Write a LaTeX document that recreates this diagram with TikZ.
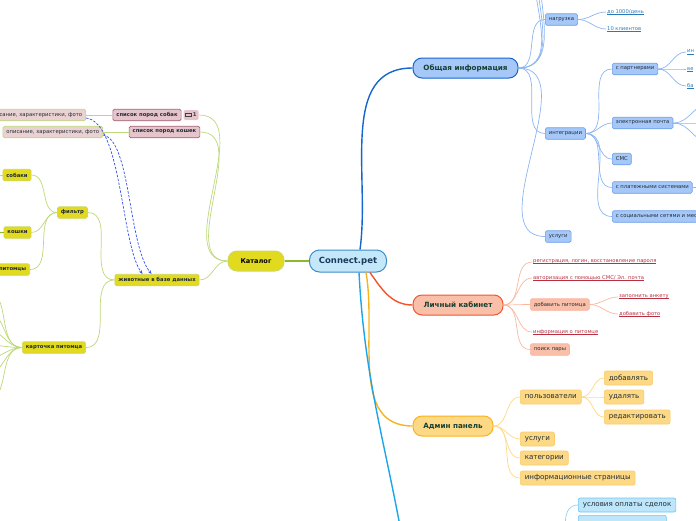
\documentclass[tikz,border=0pt]{standalone}
\usepackage{fontspec}
\setmainfont{DejaVu Sans}
\usepackage{xcolor}
\usetikzlibrary{arrows.meta, positioning}
\definecolor{rootfill}{HTML}{C4E8FA}
\definecolor{rootline}{HTML}{3C8CC8}
\definecolor{roottxt}{HTML}{1B3A5C}
\definecolor{txtgreen}{HTML}{163F33}
\definecolor{darktxt}{HTML}{222B36}
\definecolor{bluebr}{HTML}{1565D0}
\definecolor{bluefill}{HTML}{A5C8F8}
\definecolor{blueedge}{HTML}{6A9CE8}
\definecolor{bluethin}{HTML}{8CB6F2}
\definecolor{bluelink}{HTML}{2A7AB8}
\definecolor{redbr}{HTML}{F2552C}
\definecolor{redfill}{HTML}{F9BFA8}
\definecolor{redthin}{HTML}{F8B8A0}
\definecolor{redlink}{HTML}{B83040}
\definecolor{orbr}{HTML}{F7B31E}
\definecolor{orfill}{HTML}{FDD985}
\definecolor{oredge}{HTML}{FBCB6A}
\definecolor{orthin}{HTML}{FDD888}
\definecolor{skybr}{HTML}{1CA5E8}
\definecolor{skyfill}{HTML}{BEE6FA}
\definecolor{skyedge}{HTML}{6BC6F0}
\definecolor{skythin}{HTML}{8FD3F3}
\definecolor{greenbr}{HTML}{8CB82A}
\definecolor{greenthin}{HTML}{BCD878}
\definecolor{catfill}{HTML}{E2DA1E}
\definecolor{catedge}{HTML}{CCD860}
\definecolor{pinkfill}{HTML}{E6C4CC}
\definecolor{pinkedge}{HTML}{A06070}
\definecolor{descfill}{HTML}{EAD2D2}
\definecolor{dashblue}{HTML}{3050F0}
\newlength{\lkwidth}
\newcommand{\lk}[1]{\settowidth{\lkwidth}{#1}\rlap{\rule[-0.9pt]{\lkwidth}{0.35pt}}#1}

\begin{document}
\begin{tikzpicture}[
  x=1pt, y=-1pt,
  main/.style={rounded corners=9pt, minimum height=20pt, inner sep=0pt, font=\fontsize{7.2}{8}\selectfont\bfseries, text=txtgreen, line width=1pt},
  leaf/.style={rounded corners=1.5pt, minimum height=11.5pt, inner xsep=3.5pt, inner ysep=0pt, font=\fontsize{5.3}{6}\selectfont, text=darktxt, line width=0.6pt},
  leafb/.style={leaf, font=\fontsize{5.3}{6}\selectfont\bfseries},
  tag/.style={rounded corners=2pt, minimum height=14pt, inner xsep=4.5pt, inner ysep=0pt, font=\fontsize{7.1}{8}\selectfont, text=darktxt, line width=0.6pt},
  lnk/.style={inner sep=1pt, anchor=west, font=\fontsize{5.2}{6}\selectfont},
  branch/.style={line width=1.4pt},
  twig/.style={line width=0.7pt},
  ref/.style={dash pattern=on 2.5pt off 1.5pt, dashblue, line width=0.7pt, -{Stealth[length=4pt, width=3pt]}}
]
  \useasboundingbox (0,0) rectangle (696,520);
  \clip (0,0) rectangle (696,520);

  % centre and main branches
  \node[main, fill=rootfill, draw=rootline, minimum width=77pt, minimum height=22pt, rounded corners=10pt, font=\fontsize{8.5}{10}\selectfont\bfseries, text=roottxt] (root) at (348,261) {Connect.pet};
  \node[main, fill=catfill, draw=catedge, minimum width=56pt, text=black, font=\fontsize{6.6}{8}\selectfont\bfseries] (cat) at (256,261) {Каталог};
  \node[main, fill=bluefill, draw=bluebr, minimum width=105pt] (info) at (465.5,68) {Общая информация};
  \node[main, fill=redfill, draw=redbr, minimum width=90pt] (cabinet) at (458,305) {Личный кабинет};
  \node[main, fill=orfill, draw=orbr, minimum width=80pt] (admin) at (453,426) {Админ панель};
  \coordinate (skyend) at (404,548);

  \draw[branch, greenbr] (root.west) -- (cat.east);
  \draw[branch, bluebr] ([xshift=12pt]root.north) to[out=82, in=180] (info.west);
  \draw[branch, redbr] ([xshift=22pt]root.south) to[out=-55, in=180] (cabinet.west);
  \draw[branch, orbr] ([xshift=18pt]root.south) to[out=-80, in=180] (admin.west);
  \draw[branch, skybr] ([xshift=11pt]root.south) to[out=-87, in=100] (skyend);

  % general info
  \node[leaf, fill=bluefill, draw=blueedge, anchor=west] (load) at (545,19.5) {нагрузка};
  \node[leaf, fill=bluefill, draw=blueedge, anchor=west] (integr) at (545,133.5) {интеграции};
  \node[leaf, fill=bluefill, draw=blueedge, anchor=west] (serv) at (545,236.5) {услуги};
  \coordinate (up1) at (532,-40);
  \coordinate (up2) at (535,-40);
  \coordinate (up3) at (538,-40);
  \draw[twig, bluethin] (info.east) to[out=0, in=-90] (up1);
  \draw[twig, bluethin] (info.east) to[out=0, in=-90] (up2);
  \draw[twig, bluethin] (info.east) to[out=0, in=-90] (up3);
  \draw[twig, bluethin] (info.east) to[out=0, in=180] (load.west);
  \draw[twig, bluethin] (info.east) to[out=0, in=180] (integr.west);
  \draw[twig, bluethin] (info.east) to[out=0, in=180] (serv.west);

  \node[lnk, text=bluelink] (perday) at (606,12) {\lk{до 1000/день}};
  \node[lnk, text=bluelink] (clients) at (606,29) {\lk{10 клиентов}};
  \draw[twig, bluethin] (load.east) to[out=0, in=180] (perday.west);
  \draw[twig, bluethin] (load.east) to[out=0, in=180] (clients.west);

  \node[leaf, fill=bluefill, draw=blueedge, anchor=west] (partn) at (612,69) {с партнерами};
  \node[leaf, fill=bluefill, draw=blueedge, anchor=west] (mail) at (612,123) {электронная почта};
  \node[leaf, fill=bluefill, draw=blueedge, anchor=west] (sms) at (612,159) {СМС};
  \node[leaf, fill=bluefill, draw=blueedge, anchor=west] (pay) at (612,187.5) {с платежными системами};
  \node[leaf, fill=bluefill, draw=blueedge, anchor=west] (soc) at (612,216.5) {с социальными сетями и мессенджерами};
  \draw[twig, bluethin] (integr.east) to[out=0, in=180] (partn.west);
  \draw[twig, bluethin] (integr.east) to[out=0, in=180] (mail.west);
  \draw[twig, bluethin] (integr.east) to[out=0, in=180] (sms.west);
  \draw[twig, bluethin] (integr.east) to[out=0, in=180] (pay.west);
  \draw[twig, bluethin] (integr.east) to[out=0, in=180] (soc.west);

  \node[lnk, text=bluelink] (pa) at (686,52) {\lk{ин}};
  \node[lnk, text=bluelink] (pb) at (686,69) {\lk{ве}};
  \node[lnk, text=bluelink] (pc) at (686,86) {\lk{ба}};
  \draw[twig, bluethin] (partn.east) to[out=0, in=180] (pa.west);
  \draw[twig, bluethin] (partn.east) to[out=0, in=180] (pb.west);
  \draw[twig, bluethin] (partn.east) to[out=0, in=180] (pc.west);
  \coordinate (ma) at (712,102);
  \coordinate (mb) at (712,123);
  \coordinate (mc) at (712,144);
  \coordinate (pyo) at (712,187.5);
  \draw[twig, bluethin] (mail.east) to[out=0, in=180] (ma);
  \draw[twig, bluethin] (mail.east) to[out=0, in=180] (mb);
  \draw[twig, bluethin] (mail.east) to[out=0, in=180] (mc);
  \draw[twig, bluethin] (pay.east) -- (pyo);

  % personal account
  \node[lnk, text=redlink] (reg) at (532,262) {\lk{регистрация, логин, восстановление пароля}};
  \node[lnk, text=redlink] (auth) at (532,278) {\lk{авторизация с помощью СМС/ Эл. почта}};
  \node[leaf, fill=redfill, draw=redbr!45, anchor=west] (addpet) at (530,304.5) {добавить питомца};
  \node[lnk, text=redlink] (petinfo) at (532,332) {\lk{информация о питомце}};
  \node[leaf, fill=redfill, draw=redbr!45, anchor=west] (pair) at (530,349.5) {поиск пары};
  \draw[twig, redthin] (cabinet.east) to[out=0, in=180] (reg.west);
  \draw[twig, redthin] (cabinet.east) to[out=0, in=180] (auth.west);
  \draw[twig, redthin] (cabinet.east) to[out=0, in=180] (addpet.west);
  \draw[twig, redthin] (cabinet.east) to[out=0, in=180] (petinfo.west);
  \draw[twig, redthin] (cabinet.east) to[out=0, in=180] (pair.west);
  \node[lnk, text=redlink] (form) at (618,297) {\lk{заполнить анкету}};
  \node[lnk, text=redlink] (photo) at (618,314) {\lk{добавить фото}};
  \draw[twig, redthin] (addpet.east) to[out=0, in=180] (form.west);
  \draw[twig, redthin] (addpet.east) to[out=0, in=180] (photo.west);

  % admin panel
  \node[tag, fill=orfill, draw=oredge, anchor=west] (users) at (520,397) {пользователи};
  \node[tag, fill=orfill, draw=oredge, anchor=west] (aserv) at (520,439) {услуги};
  \node[tag, fill=orfill, draw=oredge, anchor=west] (acat) at (520,458) {категории};
  \node[tag, fill=orfill, draw=oredge, anchor=west] (apages) at (520,478) {информационные страницы};
  \draw[twig, orthin] (admin.east) to[out=0, in=180] (users.west);
  \draw[twig, orthin] (admin.east) to[out=0, in=180] (aserv.west);
  \draw[twig, orthin] (admin.east) to[out=0, in=180] (acat.west);
  \draw[twig, orthin] (admin.east) to[out=0, in=180] (apages.west);
  \node[tag, fill=orfill, draw=oredge, anchor=west] (uadd) at (604,378) {добавлять};
  \node[tag, fill=orfill, draw=oredge, anchor=west] (udel) at (604,397) {удалять};
  \node[tag, fill=orfill, draw=oredge, anchor=west] (uedit) at (604,417) {редактировать};
  \draw[twig, orthin] (users.east) to[out=0, in=180] (uadd.west);
  \draw[twig, orthin] (users.east) to[out=0, in=180] (udel.west);
  \draw[twig, orthin] (users.east) to[out=0, in=180] (uedit.west);

  % lower blue branch
  \node[tag, fill=skyfill, draw=skyedge, anchor=west] (terms) at (578,505) {условия оплаты сделок};
  \node[tag, fill=skyfill, draw=skyedge, anchor=north west, minimum width=88pt] (sky2) at (578,515) {};
  \coordinate (skyhub) at (566,548);
  \draw[twig, skythin] (skyhub) to[out=90, in=180] (terms.west);
  \draw[twig, skythin] (skyhub) to[out=90, in=180] (sky2.west);

  % catalogue
  \node[leafb, fill=pinkfill, draw=pinkedge] (dogs) at (147,115) {список пород собак};
  \node[leafb, fill=pinkfill, right=2pt of dogs, minimum width=15pt, minimum height=10pt, inner xsep=1.5pt, text=black!75] (cmt) {\hspace{7pt}1};
  \draw[line width=0.7pt, black!75] ([xshift=2pt,yshift=1.8pt]cmt.west) rectangle ([xshift=8pt,yshift=-1.2pt]cmt.west);
  \node[leafb, fill=pinkfill, draw=pinkedge] (cats) at (164.5,132) {список пород кошек};
  \node[leafb, fill=catfill, draw=catedge] (animals) at (157,280) {животные в базе данных};
  \draw[twig, greenthin] (cat.west) to[out=180, in=0] (cmt.east);
  \draw[twig, greenthin] (cat.west) to[out=180, in=0] (cats.east);
  \draw[twig, greenthin] (cat.west) to[out=180, in=0] (animals.east);

  \node[leaf, fill=descfill, draw=greenthin, anchor=east] (dogdesc) at (86,115) {описание, характеристики, фото};
  \node[leaf, fill=descfill, draw=greenthin, anchor=east] (catdesc) at (103,132) {описание, характеристики, фото};
  \draw[twig, greenthin] (dogs.west) -- (dogdesc.east);
  \draw[twig, greenthin] (cats.west) -- (catdesc.east);
  \draw[ref] ([yshift=-3pt]dogdesc.east) .. controls (122,122) and (121,245) .. ([xshift=28pt]animals.north west);
  \draw[ref] ([yshift=-3pt]catdesc.east) .. controls (131,140) and (128,245) .. ([xshift=37pt]animals.north west);

  \node[leafb, fill=catfill, draw=catedge] (filter) at (72.5,212.5) {фильтр};
  \node[leafb, fill=catfill, draw=catedge] (card) at (54,347.5) {карточка питомца};
  \draw[twig, greenthin] (animals.west) to[out=180, in=0] (filter.east);
  \draw[twig, greenthin] (animals.west) to[out=180, in=0] (card.east);

  \node[leafb, fill=catfill, draw=catedge] (fdogs) at (17,175) {собаки};
  \node[leafb, fill=catfill, draw=catedge] (fcats) at (17.5,232.5) {кошки};
  \node[leafb, fill=catfill, draw=catedge, anchor=east] (fpets) at (30,269.5) {питомцы};
  \draw[twig, greenthin] (filter.west) to[out=180, in=0] (fdogs.east);
  \draw[twig, greenthin] (filter.west) to[out=180, in=0] (fcats.east);
  \draw[twig, greenthin] (filter.west) to[out=180, in=0] (fpets.east);
  \coordinate (fd) at (-12,175);
  \coordinate (fc) at (-12,232.5);
  \draw[twig, greenthin] (fdogs.west) -- (fd);
  \draw[twig, greenbr] (fcats.west) -- (fc);

  \coordinate (c1) at (-14,291);
  \coordinate (c2) at (-14,311);
  \coordinate (c3) at (-14,329);
  \coordinate (c4) at (-14,345);
  \coordinate (c5) at (-14,359);
  \coordinate (c6) at (-14,375);
  \coordinate (c7) at (-14,401);
  \draw[twig, greenthin] (card.west) to[out=180, in=0] (c1);
  \draw[twig, greenthin] (card.west) to[out=180, in=0] (c2);
  \draw[twig, greenthin] (card.west) to[out=180, in=0] (c3);
  \draw[twig, greenthin] (card.west) to[out=180, in=0] (c4);
  \draw[twig, greenthin] (card.west) to[out=180, in=0] (c5);
  \draw[twig, greenthin] (card.west) to[out=180, in=0] (c6);
  \draw[twig, greenthin] (card.west) to[out=180, in=0] (c7);
  \draw[branch, greenthin] (card.west) -- ++(-6,0);
\end{tikzpicture}
\end{document}
